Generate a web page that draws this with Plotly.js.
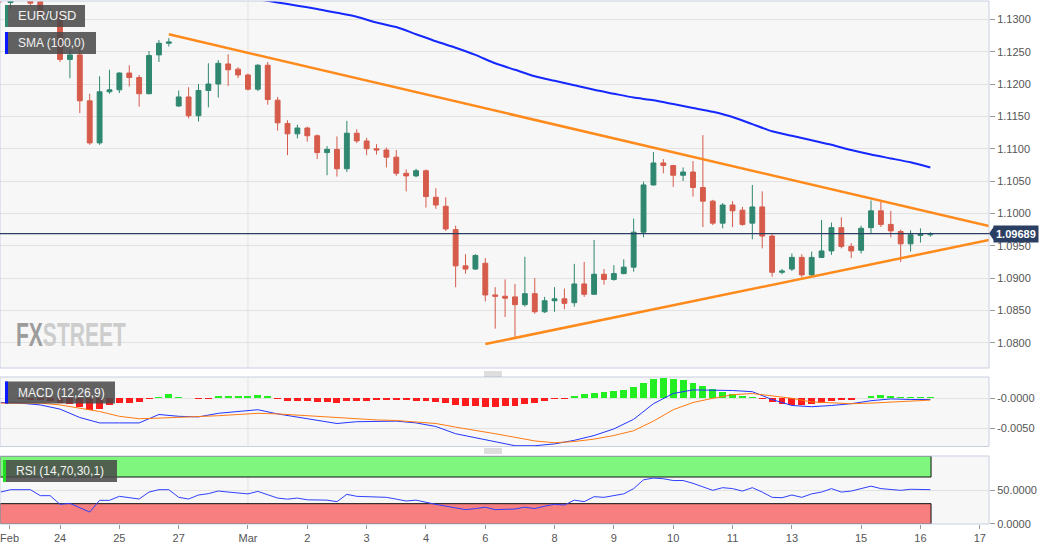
<!DOCTYPE html>
<html><head><meta charset="utf-8">
<script src="https://cdn.plot.ly/plotly-3.0.1.min.js"></script>
<style>html,body{margin:0;padding:0;background:#fff;} #chart{width:1060px;height:550px;}</style>
</head><body><div id="chart"></div>
<script>
// ---------- DATA ----------
const candleOpen  = [1.1338,1.1326,1.1335,1.1340,1.1327,1.1305,1.1310,1.1238,1.1245,1.1174,1.1109,1.1188,1.1191,1.1217,1.1210,1.1185,1.1245,1.1263,1.1166,1.1180,1.1151,1.1190,1.1200,1.1231,1.1223,1.1214,1.1192,1.1229,1.1175,1.1139,1.1123,1.1132,1.1120,1.1094,1.1099,1.1069,1.1124,1.1112,1.1100,1.1098,1.1087,1.1062,1.1058,1.1066,1.1025,1.1011,1.0975,1.0919,1.0914,1.0923,1.0874,1.0872,1.0871,1.0859,1.0876,1.0848,1.0865,1.0868,1.0862,1.0891,1.0875,1.0906,1.0898,1.0907,1.0917,1.0971,1.1044,1.1078,1.1074,1.1059,1.1064,1.1040,1.1019,1.0985,1.1013,1.1005,1.0985,1.1010,1.0965,1.0909,1.0914,1.0932,1.0905,1.0932,1.0942,1.0978,1.0949,1.0943,1.0978,1.1004,1.0983,1.0972,1.0953,1.0966,1.0967];
const candleHigh  = [1.1342,1.1340,1.1345,1.1342,1.1330,1.1318,1.1318,1.1253,1.1263,1.1185,1.1212,1.1222,1.1218,1.1229,1.1214,1.1251,1.1268,1.1271,1.1190,1.1195,1.1200,1.1232,1.1237,1.1246,1.1226,1.1216,1.1231,1.1234,1.1180,1.1144,1.1137,1.1134,1.1122,1.1104,1.1119,1.1143,1.1130,1.1117,1.1107,1.1102,1.1098,1.1068,1.1069,1.1068,1.1039,1.1025,1.0981,1.0937,1.0937,1.0931,1.0886,1.0898,1.0891,1.0933,1.0900,1.0871,1.0886,1.0884,1.0922,1.0925,1.0959,1.0914,1.0920,1.0929,1.0992,1.1049,1.1095,1.1084,1.1075,1.1071,1.1081,1.1121,1.1021,1.1016,1.1019,1.1010,1.1044,1.1034,1.0968,1.0914,1.0938,1.0937,1.0941,1.0990,1.0986,1.0994,1.0954,1.0981,1.1020,1.1018,1.1004,1.0975,1.0974,1.0977,1.0971];
const candleLow   = [1.1325,1.1316,1.1328,1.1321,1.1300,1.1296,1.1234,1.1209,1.1155,1.1106,1.1106,1.1185,1.1186,1.1196,1.1165,1.1184,1.1234,1.1258,1.1165,1.1147,1.1142,1.1164,1.1179,1.1197,1.1209,1.1190,1.1189,1.1168,1.1128,1.1090,1.1116,1.1111,1.1084,1.1059,1.1057,1.1064,1.1109,1.1090,1.1091,1.1071,1.1058,1.1034,1.1056,1.1009,1.1007,1.0973,1.0886,1.0907,1.0913,1.0864,1.0822,1.0840,1.0806,1.0856,1.0845,1.0846,1.0848,1.0852,1.0856,1.0871,1.0874,1.0890,1.0896,1.0906,1.0910,1.0963,1.1043,1.1062,1.1041,1.1050,1.1026,1.0979,1.0982,1.0977,1.0979,1.0981,1.0960,1.0946,1.0902,1.0906,1.0911,1.0901,1.0902,1.0931,1.0936,1.0946,1.0931,1.0938,1.0968,1.0979,1.0963,1.0925,1.0941,1.0955,1.0964];
const candleClose = [1.1330,1.1335,1.1340,1.1325,1.1305,1.1310,1.1238,1.1245,1.1174,1.1109,1.1188,1.1191,1.1217,1.1210,1.1185,1.1244,1.1263,1.1265,1.1180,1.1151,1.1190,1.1200,1.1232,1.1222,1.1214,1.1192,1.1229,1.1176,1.1140,1.1123,1.1132,1.1120,1.1094,1.1099,1.1069,1.1124,1.1112,1.1100,1.1098,1.1087,1.1062,1.1058,1.1066,1.1026,1.1013,1.0976,1.0919,1.0914,1.0935,1.0874,1.0872,1.0869,1.0859,1.0876,1.0848,1.0865,1.0868,1.0861,1.0891,1.0875,1.0906,1.0898,1.0907,1.0917,1.0971,1.1044,1.1078,1.1074,1.1059,1.1064,1.1040,1.1019,1.0985,1.1013,1.1004,1.0983,1.1010,1.0965,1.0909,1.0911,1.0932,1.0905,1.0932,1.0942,1.0978,1.0949,1.0942,1.0977,1.1004,1.0983,1.0973,1.0953,1.0967,1.0968,1.09689];

const smaX = [24,26,28,30,32,34,36,38,40,42,44,46,48,50,52,54,56,58,60,62,64,66,68,70,72,74,76,78,80,82,84,86,88,90,92,94];
const smaV = [1.1336,1.1331,1.1326,1.1321,1.1316,1.1310,1.1304,1.1295,1.1288,1.1277,1.1266,1.1256,1.1245,1.1232,1.1222,1.1212,1.1205,1.1198,1.1191,1.1185,1.1179,1.1175,1.1169,1.1163,1.1157,1.1149,1.1138,1.1127,1.1120,1.1113,1.1106,1.1098,1.1091,1.1085,1.1079,1.1071];

const upperTrendX = [17, 99.93];
const upperTrendY = [1.12768, 1.09805];
const lowerTrendX = [49, 99.93];
const lowerTrendY = [1.07981, 1.09589];

const macdHist = [0.0001,0.0001,-0.0001,-0.0002,-0.0003,-0.0004,-0.0007,-0.0010,-0.0014,-0.0019,-0.0018,-0.0011,-0.0008,-0.0007,-0.0006,-0.00005,0.0003,0.00067,0.0003,0.0001,-0.00005,-0.00005,0.0004,0.00045,0.00045,0.0004,0.00055,0.0004,-0.00005,-0.0004,-0.0004,-0.00045,-0.00055,-0.00065,-0.00085,-0.00045,-0.0004,-0.0004,-0.0003,-0.0003,-0.0003,-0.0003,-0.0004,-0.00045,-0.00055,-0.0007,-0.0011,-0.0013,-0.0013,-0.0014,-0.0014,-0.0013,-0.0012,-0.00087,-0.00075,-0.00046,-0.00017,-0.00005,0.0004,0.00064,0.00092,0.0011,0.00127,0.00145,0.0019,0.0026,0.0032,0.00335,0.0032,0.0030,0.0026,0.0021,0.00156,0.0011,0.00075,0.00046,0.0003,-0.00005,-0.00058,-0.0010,-0.00104,-0.00116,-0.0010,-0.00075,-0.0004,-0.0003,-0.0003,0.0001,0.00046,0.0005,0.0004,0.0003,0.0003,0.0003,0.0003];
const macdX = [0,2,4,6,8,10,12,14,16,18,20,22,24,26,28,30,32,34,36,38,40,42,44,46,48,50,52,54,56,58,60,62,64,66,68,70,72,74,76,78,80,82,84,86,88,90,92,94];
const macdLine = [-0.0007,-0.0008,-0.0011,-0.0018,-0.0032,-0.0041,-0.0041,-0.0041,-0.0027,-0.0030,-0.0031,-0.0025,-0.0022,-0.0019,-0.0026,-0.0031,-0.0036,-0.0042,-0.0039,-0.0038,-0.0038,-0.0041,-0.0047,-0.0059,-0.0066,-0.0073,-0.0079,-0.0079,-0.0076,-0.0070,-0.0062,-0.0051,-0.0035,-0.0009,0.0008,0.0014,0.0014,0.0013,0.0011,-0.0002,-0.0012,-0.0014,-0.0012,-0.0009,-0.0004,-0.0001,-0.0002,-0.0002];
const signalLine = [-0.0008,-0.0008,-0.0008,-0.0011,-0.0016,-0.0022,-0.0030,-0.0034,-0.0033,-0.0032,-0.0031,-0.0029,-0.0027,-0.0025,-0.0026,-0.0028,-0.0031,-0.0033,-0.0035,-0.0036,-0.0037,-0.0039,-0.0042,-0.0048,-0.0053,-0.0059,-0.0065,-0.0071,-0.0074,-0.0072,-0.0068,-0.0062,-0.0054,-0.0038,-0.0019,-0.0007,0.0000,0.0006,0.0008,0.0004,0.0000,-0.0006,-0.0008,-0.0009,-0.0008,-0.0006,-0.0004,-0.0003];

const rsiX = [0,1,3,4,5,6,7,8,9,10,11,12,13,14,15,16,17,18,19,20,21,22,23,25,26,27,28,29,30,31,33,34,35,36,37,39,40,41,42,43,44,46,47,48,49,50,52,53,54,55,56,57,58,59,60,61,62,63,64,65,66,67,68,69,70,72,73,74,75,76,77,78,79,80,81,82,83,84,85,86,88,89,91,92,94];
const rsiV = [47.4,51,51,42,42,29,30.5,23.7,17.4,35,35,41,39.5,37,47.4,51,51,39.5,37,43,45,49,47.4,44.7,48.4,43,38.4,36.8,38.4,35.8,35.3,33,44,41,40.5,39.5,36.8,34,35.3,31.6,28.9,23.7,21,22.6,24.7,21,22,24.7,22.6,26.3,29,27.9,35.3,33,40.5,39.5,42,44.7,52.6,65.8,68.4,67.4,64.7,64.7,60.5,50,54,52.6,48.9,54,47.4,39.5,38.9,43,39.5,44.7,47.4,52.6,47.4,48.9,56.3,52.6,50,51.6,51];
const rsiUpper = 70, rsiLower = 30;

const dayIdx    = [0.9,6,12,18,25,31,37,43,49,56,62,68,74,80,87,93,99];
const dayLabels = ['Feb','24','25','27','Mar','2','3','4','6','8','9','10','11','13','15','16','17'];
const priceTicks = [1.080,1.085,1.090,1.095,1.100,1.105,1.110,1.115,1.120,1.125,1.130];

// ---------- LAYOUT HELPERS (pixel geometry) ----------
const PW = 989, TOPPX = 1, BOTPX = 524, PH = BOTPX - TOPPX;
const px = x => x / PW;
const py = y => (BOTPX - y) / PH;
const FONT = 'Liberation Sans, Arial, sans-serif';
const idx = candleClose.map((_, i) => i);
const xRange = [-0.07, 99.93];
const lastClose = candleClose[candleClose.length - 1];
const lastIdx = idx[idx.length - 1];

const traces = [
  {type:'candlestick', x:idx, open:candleOpen, high:candleHigh, low:candleLow, close:candleClose,
   xaxis:'x', yaxis:'y', whiskerwidth:0, hoverinfo:'skip',
   increasing:{line:{color:'#2f8770', width:1}, fillcolor:'#2f8770'},
   decreasing:{line:{color:'#d65b4b', width:1}, fillcolor:'#d65b4b'}},
  {type:'scatter', mode:'lines', x:smaX, y:smaV, xaxis:'x', yaxis:'y', line:{color:'#1428ff', width:2, shape:'spline', smoothing:0.6}, hoverinfo:'skip'},
  {type:'scatter', mode:'lines', x:upperTrendX, y:upperTrendY, xaxis:'x', yaxis:'y', line:{color:'#ff8a1c', width:2.5}, hoverinfo:'skip'},
  {type:'scatter', mode:'lines', x:lowerTrendX, y:lowerTrendY, xaxis:'x', yaxis:'y', line:{color:'#ff8a1c', width:2.5}, hoverinfo:'skip'},
  {type:'bar', x:idx, y:macdHist, xaxis:'x', yaxis:'y2', width:0.7,
   marker:{color:macdHist.map(v => v >= 0 ? '#22ee22' : '#ff1c1c'), line:{width:0}}, hoverinfo:'skip'},
  {type:'scatter', mode:'lines', x:macdX, y:macdLine, xaxis:'x', yaxis:'y2', line:{color:'#2236ff', width:1}, hoverinfo:'skip'},
  {type:'scatter', mode:'lines', x:macdX, y:signalLine, xaxis:'x', yaxis:'y2', line:{color:'#ff7a12', width:1}, hoverinfo:'skip'},
  {type:'scatter', mode:'lines', x:rsiX, y:rsiV, xaxis:'x', yaxis:'y3', line:{color:'#3040ff', width:1}, hoverinfo:'skip'}
];

const axisFont = {family:FONT, size:11, color:'#555'};
const yCommon = {side:'right', anchor:'x', showline:false, zeroline:false, ticks:'outside', ticklen:5,
  tickcolor:'#999', tickfont:axisFont, gridcolor:'#e2e2e2', gridwidth:1, fixedrange:true};

const border = '#c8cfdf';
const shapes = [];
['y','y2','y3'].forEach(ax => {
  shapes.push({type:'line', xref:'x', yref:ax+' domain', x0:25, x1:25, y0:0, y1:1, line:{color:'#e2e2e2', width:1}, layer:'below'});
});
// RSI bands
shapes.push({type:'rect', xref:'x', yref:'y3', x0:xRange[0], x1:lastIdx + 0.07, y0:rsiUpper, y1:101.5,
  fillcolor:'#7ff77f', line:{color:'#111', width:1}, layer:'between'});
shapes.push({type:'rect', xref:'x', yref:'y3', x0:xRange[0], x1:lastIdx + 0.07, y0:-0.5, y1:rsiLower,
  fillcolor:'#f77f7f', line:{color:'#111', width:1}, layer:'between'});
// panel borders
['y','y2','y3'].forEach(ax => {
  shapes.push({type:'rect', xref:'paper', yref:ax+' domain', x0:0, x1:1, y0:0, y1:1, line:{color:border, width:1}, layer:'above'});
});
// last price line
shapes.push({type:'line', xref:'paper', yref:'y', x0:0, x1:1, y0:lastClose, y1:lastClose, line:{color:'#2b3f63', width:1.2}, layer:'above'});
// legend boxes
function legendBox(x0, x1, y0, y1, barColor, barW) {
  shapes.push({type:'rect', xref:'paper', yref:'paper', x0:px(x0), x1:px(x1), y0:py(y1), y1:py(y0),
    fillcolor:'rgba(72,72,72,0.86)', line:{width:0}, layer:'above'});
  shapes.push({type:'rect', xref:'paper', yref:'paper', x0:px(x0), x1:px(x0 + barW), y0:py(y1), y1:py(y0),
    fillcolor:barColor, line:{width:0}, layer:'above'});
}
legendBox(5, 85, 5, 27, '#2f8a72', 3);
legendBox(5, 96, 32, 54, '#0a18ff', 3);
legendBox(5, 115, 381.5, 403.5, '#0a18ff', 3);
legendBox(3, 117, 460, 482, '#22dd22', 3);
// drag handles
[372, 449].forEach(y => {
  [0, 2, 4].forEach(d => {
    shapes.push({type:'line', xref:'paper', yref:'paper', x0:px(484), x1:px(502), y0:py(y + d), y1:py(y + d),
      line:{color:'#a0a0a0', width:0.7}});
  });
});
// price label arrow
shapes.push({type:'path', xref:'paper', yref:'y', xsizemode:'pixel', ysizemode:'pixel', xanchor:1, yanchor:lastClose,
  path:'M 0 0 L 5 7 L 5 -7 Z', fillcolor:'#2b3f63', line:{width:0}});

const annFont = {family:FONT, size:12, color:'#f2f2f2'};
const annotations = [
  {xref:'paper', yref:'paper', x:px(16), y:py(16), xanchor:'left', yanchor:'middle', text:'EUR/USD', showarrow:false, font:Object.assign({}, annFont, {size:13})},
  {xref:'paper', yref:'paper', x:px(16), y:py(43), xanchor:'left', yanchor:'middle', text:'SMA (100,0)', showarrow:false, font:annFont},
  {xref:'paper', yref:'paper', x:px(16), y:py(392.5), xanchor:'left', yanchor:'middle', text:'MACD (12,26,9)', showarrow:false, font:annFont},
  {xref:'paper', yref:'paper', x:px(14), y:py(471), xanchor:'left', yanchor:'middle', text:'RSI (14,70,30,1)', showarrow:false, font:annFont},
  {xref:'paper', yref:'y', x:1, y:lastClose, xanchor:'left', yanchor:'middle', xshift:4,
   text:'<b>' + lastClose.toFixed(5) + '</b>', showarrow:false, bgcolor:'#2b3f63', borderpad:2,
   font:{family:FONT, size:11, color:'#ffffff'}},
  {xref:'paper', yref:'paper', x:px(14), y:py(334), xanchor:'left', yanchor:'middle', showarrow:false,
   text:'<b><span style="color:#9c9c9c">FX</span><span style="color:#cdcdcd">STREET</span></b>',
   font:{family:FONT, size:34, color:'#bbb'}}
];

const layout = {
  width:1060, height:550,
  margin:{l:0, r:1060 - PW, t:TOPPX, b:550 - BOTPX},
  paper_bgcolor:'#ffffff', plot_bgcolor:'#f7f7f7',
  showlegend:false, bargap:0, hovermode:false,
  font:{family:FONT},
  xaxis:{range:xRange, anchor:'y3', tickmode:'array', tickvals:dayIdx, ticktext:dayLabels,
    showgrid:false, zeroline:false, showline:false, ticks:'outside', ticklen:4, tickcolor:'#999',
    tickfont:axisFont, ticklabeloverflow:'allow', rangeslider:{visible:false}, fixedrange:true},
  yaxis:Object.assign({}, yCommon, {domain:[py(368), py(TOPPX)], range:[1.07611, 1.13283],
    tickmode:'array', tickvals:priceTicks, tickformat:'.4f'}),
  yaxis2:Object.assign({}, yCommon, {domain:[py(446.5), py(377)], range:[-0.00803, 0.00355],
    tickmode:'array', tickvals:[0, -0.005], ticktext:['-0.0000', '-0.0050']}),
  yaxis3:Object.assign({}, yCommon, {domain:[0, py(456)], range:[-0.5, 101.5],
    tickmode:'array', tickvals:[0, 50], ticktext:['0.0000', '50.0000']}),
  shapes:shapes, annotations:annotations
};

Plotly.newPlot('chart', traces, layout, {displayModeBar:false, staticPlot:true}).then(gd => {
  // condense the watermark text horizontally (narrow logo lettering)
  try {
    gd.querySelectorAll('text.annotation-text').forEach(t => {
      if (t.textContent.indexOf('STREET') >= 0) {
        const bb = t.getBBox();
        const s = 110 / bb.width;
        t.setAttribute('transform', 'translate(' + bb.x + ',0) scale(' + s + ',1) translate(' + (-bb.x) + ',0)');
      }
    });
  } catch (e) {}
});
</script></body></html>
